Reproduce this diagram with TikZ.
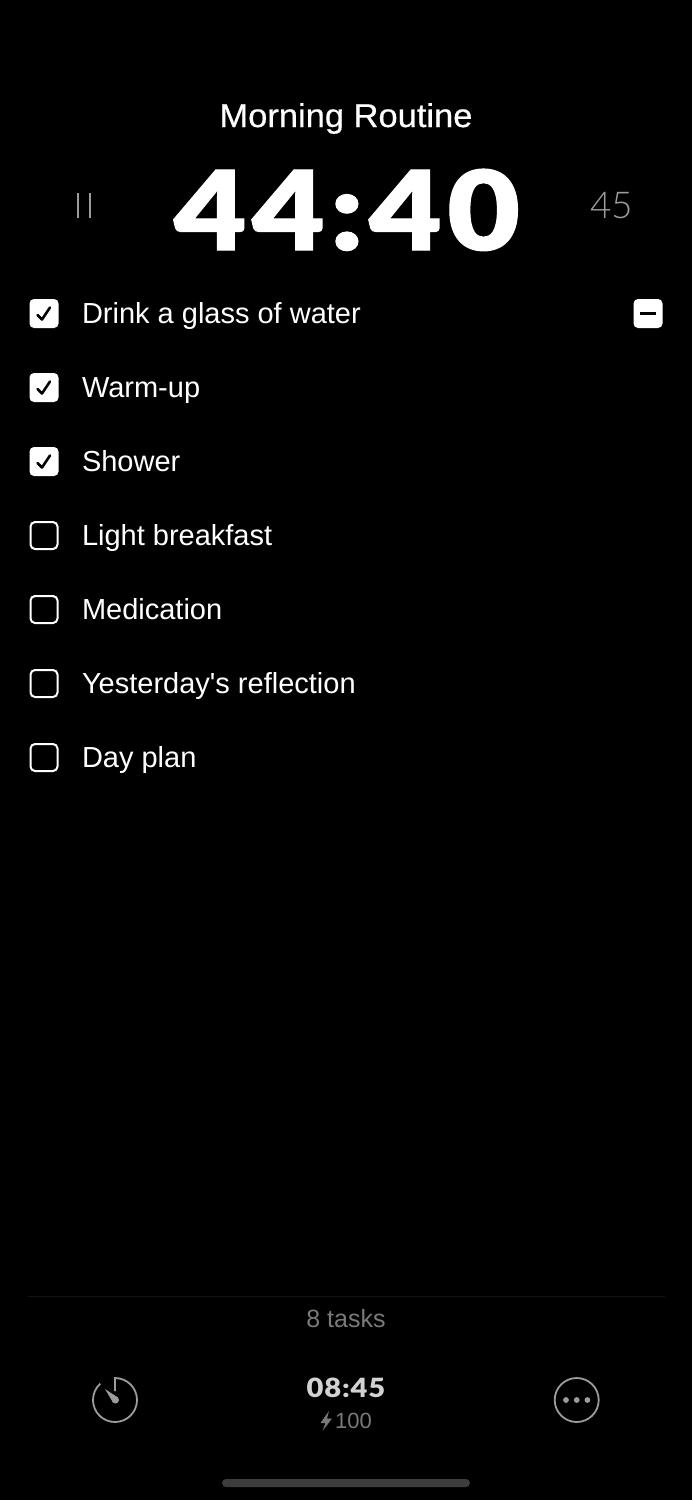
\documentclass[tikz,border=0pt]{standalone}
\usepackage{fontspec}
\usetikzlibrary{calc}
\setmainfont{Liberation Sans}
\newfontfamily\bigfont[FakeStretch=1.14,LetterSpace=5,FakeBold=1]{Lato Black}
\newfontfamily\smallbold[FakeStretch=1.1,LetterSpace=3]{Lato Black}
\newfontfamily\titlefont[FakeStretch=1.045,FakeBold=0.5]{Liberation Sans}
\newfontfamily\thinfont{Lato Light}
\definecolor{dimgray}{HTML}{7A7A7A}
\definecolor{icongray}{HTML}{9C9C9C}
\definecolor{timegray}{HTML}{D2D2D2}
\tikzset{x=1pt,y=-1pt,
 lbl/.style={anchor=base west,inner sep=0pt,outer sep=0pt,text=white,font=\fontsize{29}{32}\selectfont},
 ctr/.style={anchor=base,inner sep=0pt,outer sep=0pt},
 boxon/.style={rectangle,rounded corners=4.5pt,fill=white,minimum size=29pt,inner sep=0pt},
 boxoff/.style={rectangle,rounded corners=4.5pt,draw=white,line width=2pt,minimum size=27pt,inner sep=0pt},
 tick/.style={draw=black,line width=2.6pt,line cap=round,line join=round},
 icon/.style={draw=icongray,line width=1.8pt}}
\begin{document}
\begin{tikzpicture}
\useasboundingbox (0,0) rectangle (692,1500);
\fill[black] (0,0) rectangle (692,1500);
\node[ctr,text=white,font=\titlefont\fontsize{33}{36}\selectfont] (title) at (346,127) {Morning Routine};
\node[ctr,text=white,font=\bigfont\fontsize{110}{120}\selectfont] (clock) at (347,250) {44:40};
\draw[draw=icongray,line width=1.2pt] (78,193) -- (78,218) (90,193) -- (90,218);
\node[ctr,text=icongray,font=\thinfont\fontsize{37}{40}\selectfont] (next) at (611.5,218) {45};
% rows
\foreach \n/\y/\t in {a/313.5/Drink a glass of water,b/387.5/Warm-up,c/461.5/Shower}{
 \node[boxon] (box\n) at (44,\y) {};
 \draw[tick] ($(box\n.center)+(-6.5,1.5)$) -- ($(box\n.center)+(-2,6)$) -- ($(box\n.center)+(6,-6)$);
 \node[lbl] (txt\n) at (82,\y+9.5) {\t};
}
\foreach \n/\y/\t in {d/535.5/Light breakfast,e/609.5/Medication,f/683.5/Yesterday\textquotesingle s reflection,g/757.5/Day plan}{
 \node[boxoff] (box\n) at (44,\y) {};
 \node[lbl] (txt\n) at (82,\y+9.5) {\t};
}
\node[boxon] (minus) at (648,313.5) {};
\draw[draw=black,line width=3pt] ($(minus.center)+(-8,0)$) -- ($(minus.center)+(8,0)$);
% footer
\draw[draw=white!8!black,line width=1pt] (28,1296.5) -- (665,1296.5);
\node[ctr,text=dimgray,font=\fontsize{25}{28}\selectfont] (tasks) at (346,1327) {8 tasks};
\node[ctr,text=timegray,font=\smallbold\fontsize{26.5}{30}\selectfont] (time) at (346,1397) {08:45};
\node[anchor=base west,inner sep=0pt,text=dimgray,font=\fontsize{22}{26}\selectfont] (energy) at (335,1428) {100};
\fill[dimgray] (329,1411) -- (320.5,1423) -- (325.5,1423) -- (322.5,1431) -- (332,1418.5) -- (327,1418.5) -- cycle;
% timer icon
\coordinate (tc) at (115,1400);
\draw[icon] (115,1391) -- (115,1378) arc[start angle=-90,end angle=228,radius=22];
\fill[icongray] (105,1389) -- (118,1397.5) -- (113,1402.5) -- cycle;
\fill[icongray] (115.5,1400) circle[radius=3.5];
% more icon
\node[circle,icon,minimum size=44pt,inner sep=0pt] (more) at (576.7,1400) {};
\foreach \d in {-10.7,0,10.7}{\fill[icongray] ($(more.center)+(\d,0)$) circle[radius=2.9];}
% home
\fill[white!24!black,rounded corners=4pt] (222,1479) rectangle (470,1487);
\end{tikzpicture}
\end{document}
